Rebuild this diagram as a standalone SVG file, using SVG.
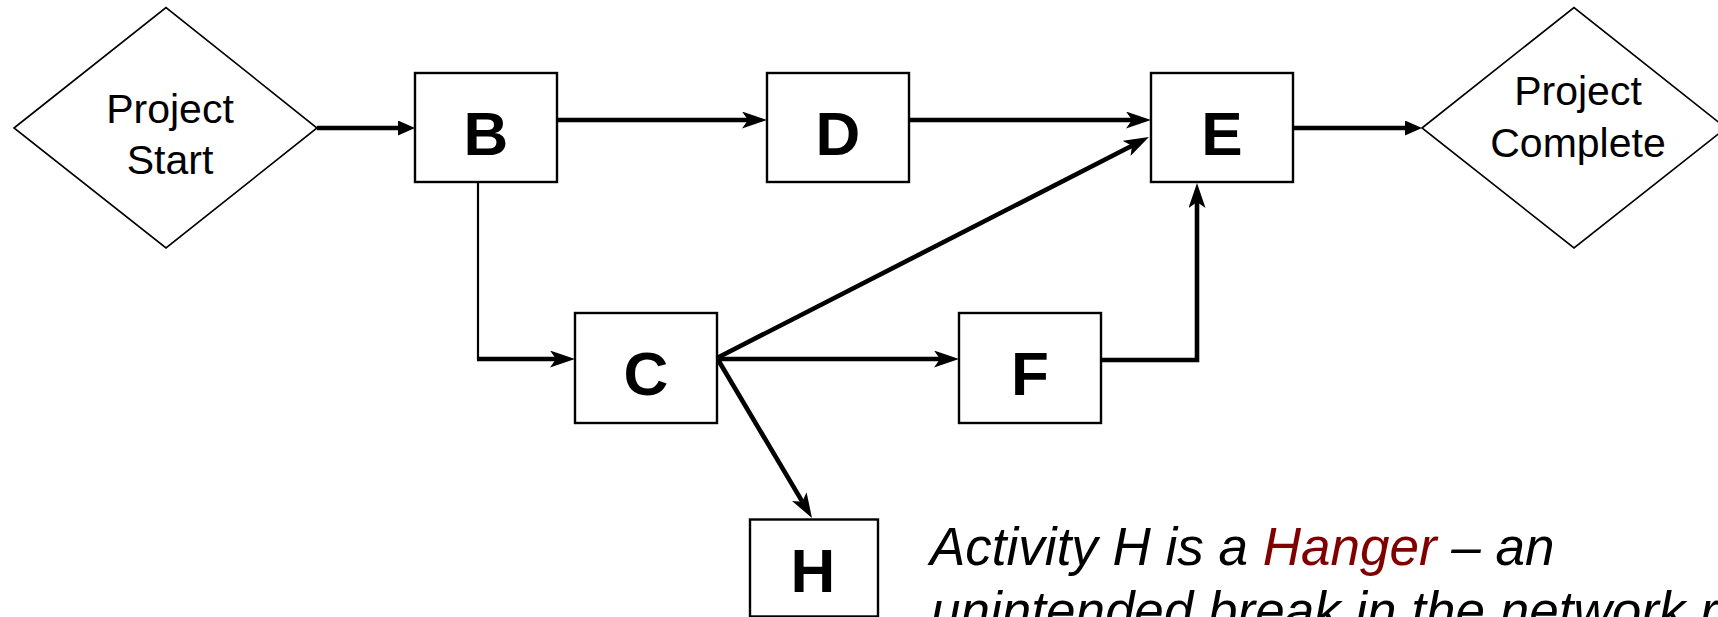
<svg xmlns="http://www.w3.org/2000/svg" width="1718" height="617" viewBox="0 0 1718 617">
  <style>
    .diamond { fill: #ffffff; stroke: #000000; stroke-width: 1.6; }
    .box { fill: #ffffff; stroke: #000000; stroke-width: 2.4; }
    .dtext { font-family: "Liberation Sans", Arial, sans-serif; font-size: 41px; fill: #000000; text-anchor: middle; }
    .letter { font-family: "Liberation Sans", Arial, sans-serif; font-size: 62px; font-weight: bold; fill: #000000; text-anchor: middle; }
    .link { fill: none; stroke: #000000; stroke-width: 4.6; stroke-linejoin: miter; }
    .thin { fill: none; stroke: #000000; stroke-width: 2.2; }
    .note { font-family: "Liberation Sans", Arial, sans-serif; font-size: 53px; font-style: italic; fill: #000000; }
    .hl { fill: #800000; }
  </style>
  <defs>
    <!-- solid triangular head, anchored at its base -->
    <marker id="tri" markerUnits="userSpaceOnUse" viewBox="0 0 17 15" markerWidth="17" markerHeight="15" refX="0" refY="7.5" orient="auto">
      <path d="M0,0 L17,7.5 L0,15 Z" fill="#000000"/>
    </marker>
    <!-- barbed head, anchored at its notch -->
    <marker id="barb" markerUnits="userSpaceOnUse" viewBox="0 0 25 17" markerWidth="25" markerHeight="17" refX="6" refY="8.5" orient="auto">
      <path d="M25,8.5 L0,0 L6,8.5 L0,17 Z" fill="#000000"/>
    </marker>
  </defs>

  <g id="connectors">
    <line class="link" x1="317" y1="128" x2="398" y2="128" marker-end="url(#tri)"/>
    <line class="link" x1="557" y1="120" x2="748" y2="120" marker-end="url(#barb)"/>
    <line class="link" x1="909" y1="120" x2="1132" y2="120" marker-end="url(#barb)"/>
    <line class="thin" x1="478" y1="182" x2="478" y2="360"/>
    <line class="link" x1="477" y1="359" x2="556" y2="359" marker-end="url(#barb)"/>
    <line class="link" x1="717" y1="359" x2="940" y2="359" marker-end="url(#barb)"/>
    <line class="link" x1="717" y1="358" x2="1132" y2="145.7" marker-end="url(#barb)"/>
    <line class="link" x1="717" y1="358" x2="802.3" y2="501.7" stroke-width="4" marker-end="url(#barb)"/>
    <polyline class="link" points="1101,360 1197,360 1197,202" marker-end="url(#barb)"/>
    <line class="link" x1="1293" y1="128" x2="1405" y2="128" marker-end="url(#tri)"/>
  </g>

  <g id="project-start">
    <polygon class="diamond" points="14,128 166,7.5 317,128 166,248"/>
    <text class="dtext" x="170" y="122.5">Project</text>
    <text class="dtext" x="170" y="173.5">Start</text>
  </g>

  <g id="node-b">
    <rect class="box" x="415" y="73" width="142" height="109"/>
    <text class="letter" x="486" y="155">B</text>
  </g>

  <g id="node-d">
    <rect class="box" x="767" y="73" width="142" height="109"/>
    <text class="letter" x="838" y="155">D</text>
  </g>

  <g id="node-e">
    <rect class="box" x="1151" y="73" width="142" height="109"/>
    <text class="letter" x="1222" y="155">E</text>
  </g>

  <g id="project-complete">
    <polygon class="diamond" points="1422,128 1574,7.5 1726,128 1574,248"/>
    <text class="dtext" x="1578" y="105">Project</text>
    <text class="dtext" x="1578" y="156.5">Complete</text>
  </g>

  <g id="node-c">
    <rect class="box" x="575" y="313" width="142" height="110"/>
    <text class="letter" x="646" y="395">C</text>
  </g>

  <g id="node-f">
    <rect class="box" x="959" y="313" width="142" height="110"/>
    <text class="letter" x="1030" y="395">F</text>
  </g>

  <g id="node-h">
    <rect class="box" x="750" y="519.5" width="128" height="97"/>
    <text class="letter" x="813" y="592">H</text>
  </g>

  <g id="note">
    <text class="note" x="930" y="565">Activity H is a <tspan class="hl">Hanger</tspan> – an</text>
    <text class="note" x="931" y="629">unintended break in the network r</text>
  </g>
</svg>
